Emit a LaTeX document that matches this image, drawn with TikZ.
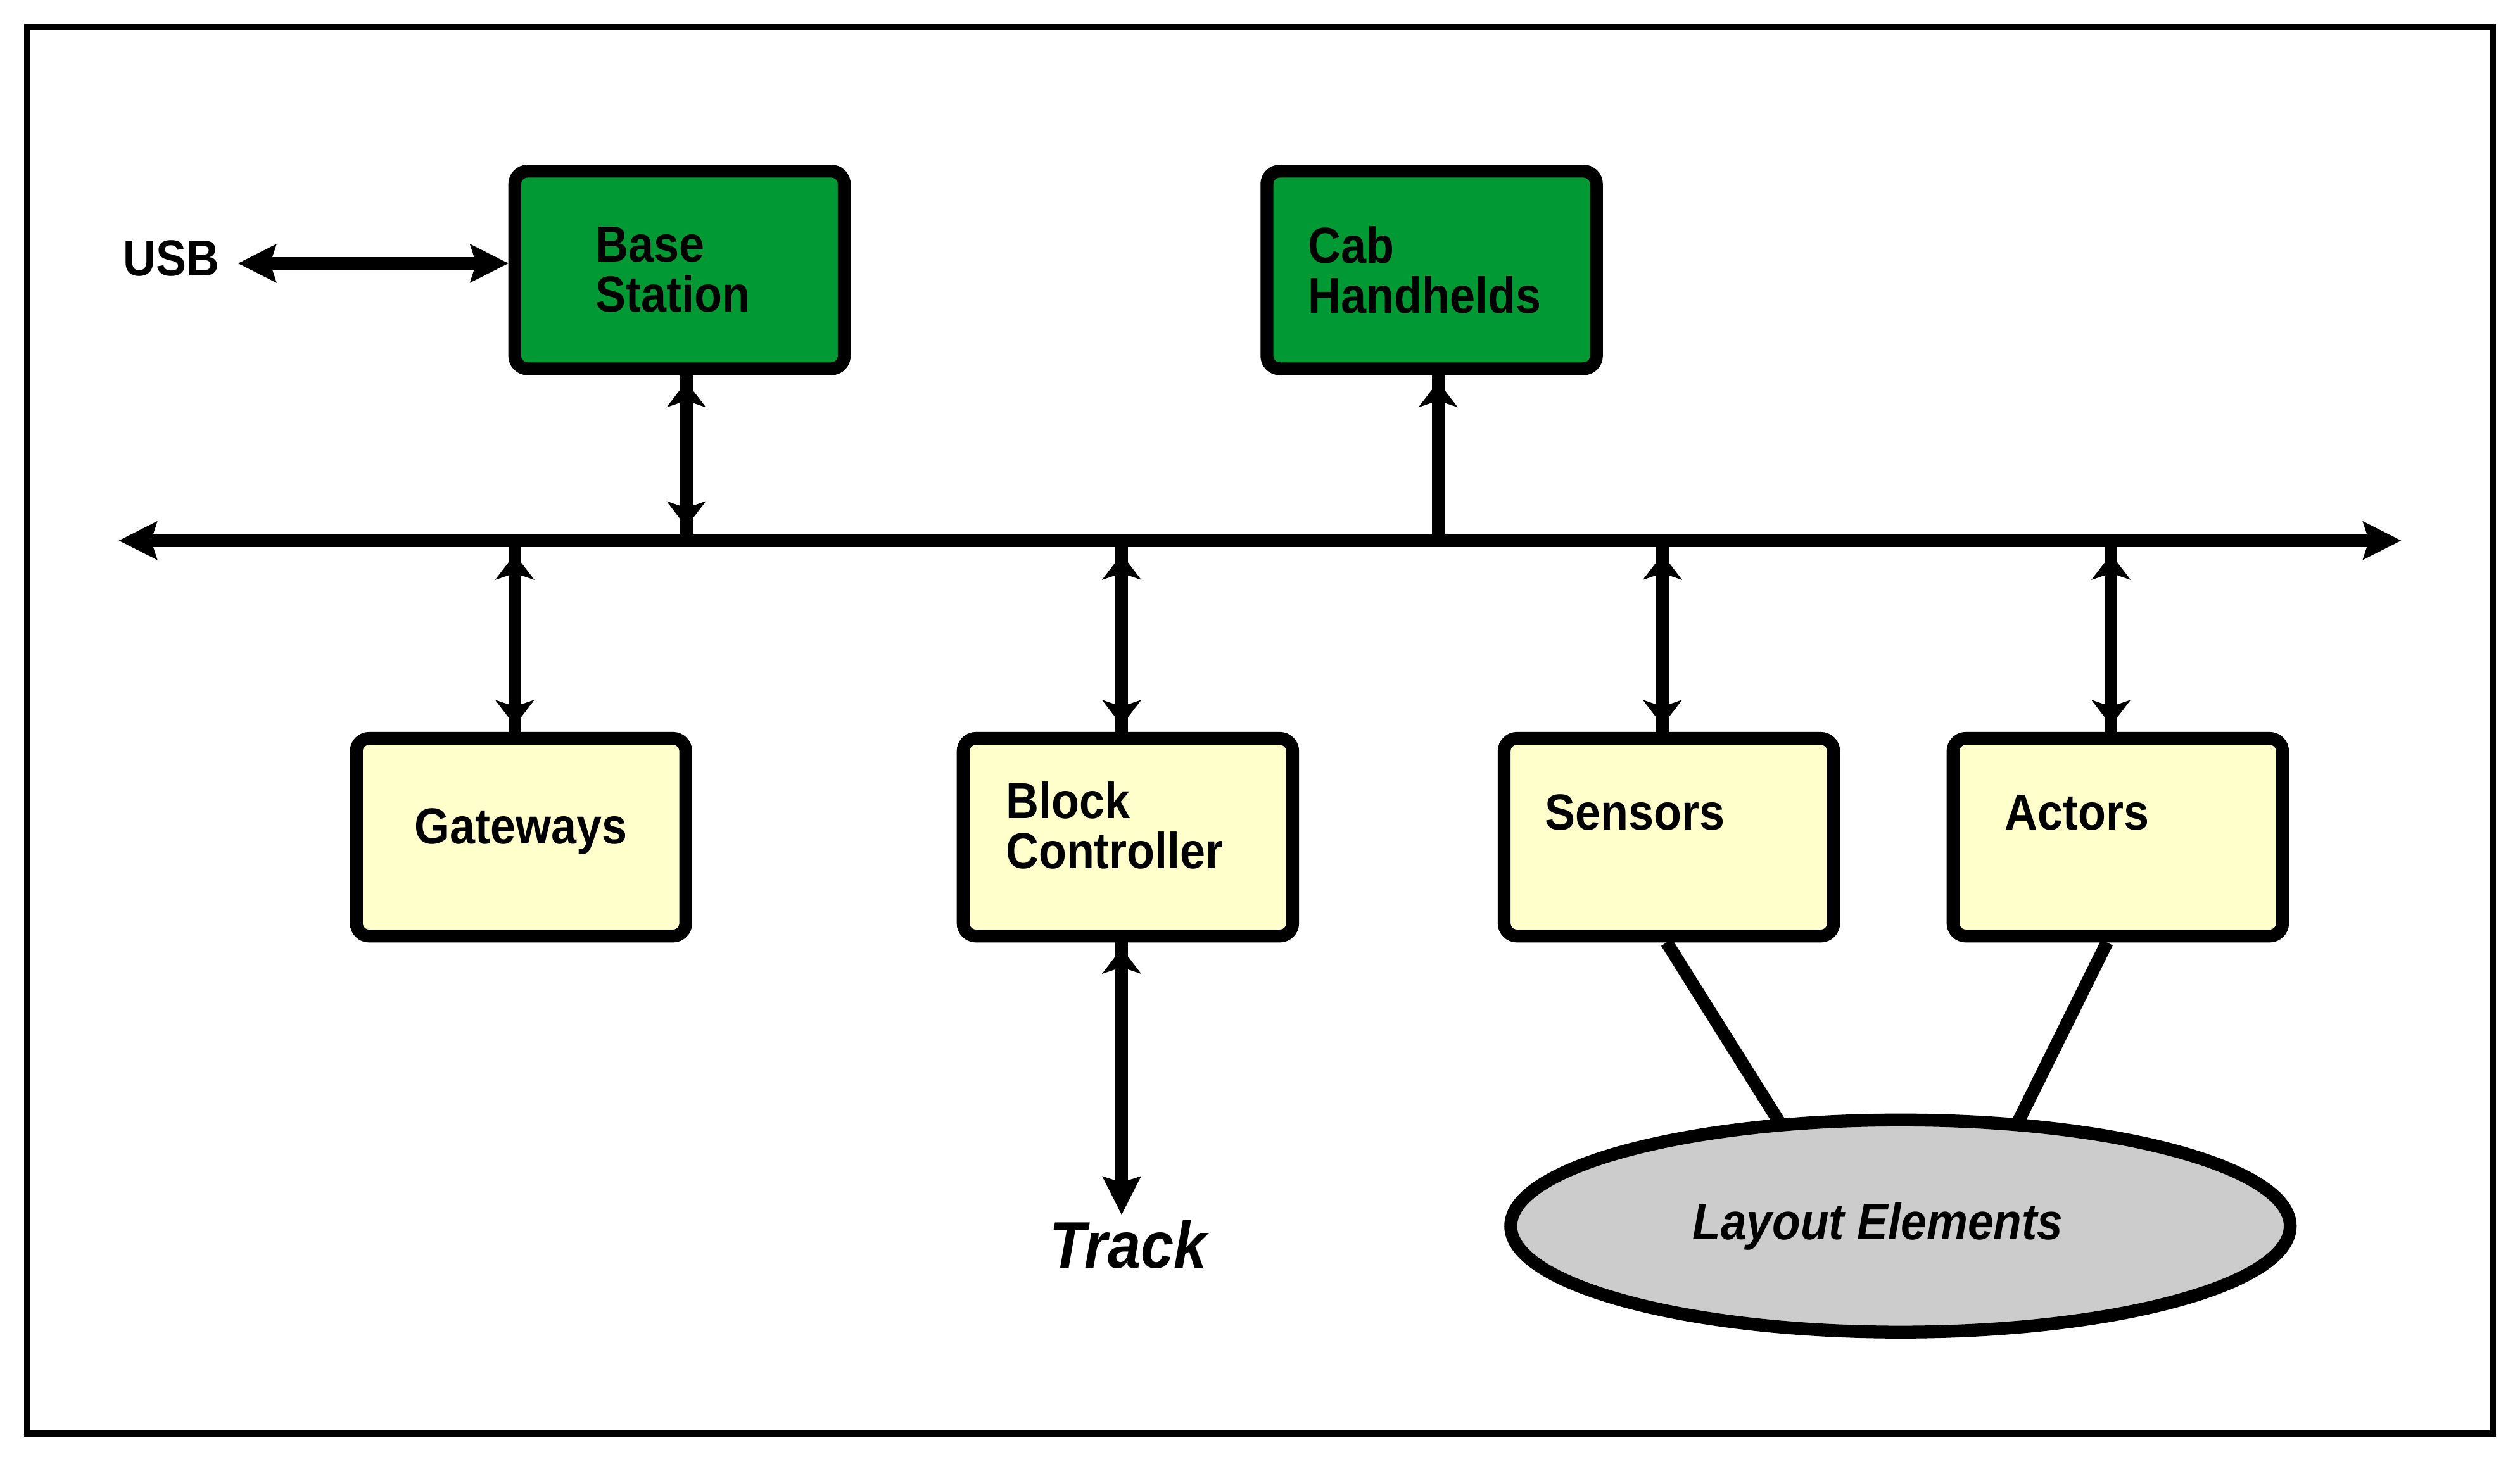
\documentclass[tikz,border=0pt]{standalone}
\usepackage{fontspec}
\setmainfont[FakeStretch=0.9]{Liberation Sans}
\usetikzlibrary{arrows.meta,shapes.geometric,backgrounds}
\definecolor{boxgreen}{RGB}{0,153,51}
\definecolor{boxyellow}{RGB}{255,255,204}
\definecolor{ellgray}{RGB}{204,204,204}
\begin{document}
\begin{tikzpicture}[x=1pt,y=-1pt,
  txt/.style={font=\fontsize{31.5}{31.1}\selectfont\bfseries},
  box/.style={draw, line width=8pt, rounded corners=8pt, minimum width=205pt,
    minimum height=123pt, align=left, txt, inner sep=0pt},
  greenbox/.style={box, fill=boxgreen},
  yellowbox/.style={box, fill=boxyellow},
  ln/.style={line width=8pt},
  shorttip/.tip={Stealth[length=16pt,width=24.5pt,inset=4.2pt,line width=0pt]},
  longtip/.tip={Stealth[length=24pt,width=24.3pt,inset=4pt,line width=0pt]},
  dbl/.style={ln, shorttip-shorttip},
  sgl/.style={ln, -shorttip},
  longdbl/.style={ln, longtip-longtip},
]
\useasboundingbox (0,0) rectangle (1568,911);
\draw[line width=4pt] (17,17) rectangle (1551,892);

% nodes
\node[greenbox] (base) at (422.8,168) {Base\\Station\hspace*{8pt}};
\node[greenbox] (cab) at (890.8,168) {Cab\\Handhelds\hspace*{8.6pt}};
\node[yellowbox] (gw) at (324.2,521) {Gateways\rule[-14pt]{0pt}{14pt}};
\node[yellowbox] (blk) at (701.8,521) {Block\\Controller\hspace*{16.5pt}\rule[-15pt]{0pt}{15pt}};
\node[yellowbox] (sen) at (1038.4,521) {Sensors\hspace*{42.5pt}\rule[-30.8pt]{0pt}{30.8pt}};
\node[yellowbox] (act) at (1317.7,521) {Actors\hspace*{50.6pt}\rule[-30.8pt]{0pt}{30.8pt}};
\node[txt] (usb) at (106.7,160.8) {USB};
\node[font=\fontsize{41}{44}\selectfont\bfseries\itshape] (track) at (702,774.5) {Track};
\node[ellipse, draw, line width=8pt, fill=ellgray, minimum width=485pt,
  minimum height=132pt, inner sep=0pt,
  font=\fontsize{32}{34}\selectfont\bfseries\itshape] (le) at (1182.5,763) {Layout Elements\hspace*{28.2pt}};

% bus
\coordinate (bL) at (74,336.4);
\coordinate (bR) at (1494,336.4);
\coordinate (pbase) at (427,336.4);
\coordinate (pcab) at (894.8,336.4);
\coordinate (pgw) at (320.3,336.4);
\coordinate (pblk) at (697.9,336.4);
\coordinate (psen) at (1034.4,336.4);
\coordinate (pact) at (1313.5,336.4);
\draw[longdbl] (bL) -- (bR);

% USB
\draw[longdbl, shorten <=8pt] ([yshift=-3.1pt]usb.east) -- ([yshift=-3.1pt]usb.east -| base.west);

% stems
\foreach \p/\b/\a in {pbase/base/south, pcab/cab/south, pgw/gw/north, pblk/blk/north, psen/sen/north, pact/act/north}{
  \draw[ln] (\p) -- (\p |- \b.\a);
}
\draw[dbl, shorten <=8.5pt, shorten >=4pt] (pbase) -- (pbase |- base.south);
\draw[sgl, shorten >=4pt] (pcab) -- (pcab |- cab.south);
\draw[dbl, shorten <=8.5pt, shorten >=4pt] (pgw) -- (pgw |- gw.north);
\draw[dbl, shorten <=8.5pt, shorten >=4pt] (pblk) -- (pblk |- blk.north);
\draw[dbl, shorten <=8.5pt, shorten >=4pt] (psen) -- (psen |- sen.north);
\draw[dbl, shorten <=8.5pt, shorten >=4pt] (pact) -- (pact |- act.north);

% track
\coordinate (ptrk) at (697.9,586.7);
\draw[ln] (blk.south -| ptrk) -- ++(0,8);
\draw[ln, shorttip-longtip, shorten <=3.6pt] (blk.south -| ptrk) -- (track.north -| ptrk);

% layout element links
\begin{pgfonlayer}{background}
\draw[ln, shorten >=-8pt] ([xshift=-1.4pt]sen.south) -- (le.139);
\draw[ln, shorten >=-8pt] ([xshift=-6.7pt]act.south) -- (le.42);
\end{pgfonlayer}
\end{tikzpicture}
\end{document}
